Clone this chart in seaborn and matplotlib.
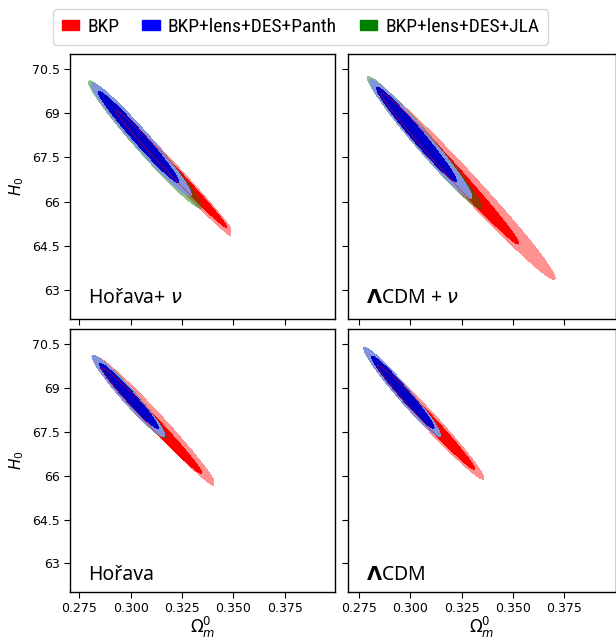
import numpy as np
import matplotlib
matplotlib.use("Agg")
import matplotlib.pyplot as plt
from matplotlib import font_manager
from matplotlib.patches import Patch
import seaborn as sns

# === Contour data: (Omega_m centre, H0 centre, sigma Omega_m, sigma H0, correlation) ===
# one tuple per panel: Horava+nu, LCDM+nu, Horava, LCDM
panel_labels = ["Hořava+ $\\nu$", "$\\mathbf{\\Lambda}$CDM + $\\nu$", "Hořava", "$\\mathbf{\\Lambda}$CDM"]

bkp_outer = [(0.3190, 67.15, 0.0330, 2.45, -0.9908),
             (0.3270, 66.63, 0.0435, 3.27, -0.9871),
             (0.3125, 67.85, 0.0290, 2.20, -0.9853),
             (0.3085, 67.95, 0.0273, 2.07, -0.9833)]
bkp_inner = [(0.3196, 67.12, 0.0271, 1.99, -0.9937),
             (0.3192, 67.13, 0.0335, 2.57, -0.9912),
             (0.3103, 67.885, 0.0243, 1.805, -0.9896),
             (0.3077, 68.00, 0.0236, 1.78, -0.9889)]
# BKP chains stop at an Omega_m bound in the Horava runs
bkp_om_max = [0.3486, None, 0.3405, None]

jla_outer = [(0.30705, 67.935, 0.02755, 2.165, -0.9790),
             (0.30705, 67.99, 0.02785, 2.25, -0.9795),
             (0.2993, 68.70, 0.0180, 1.42, -0.9682),
             (0.2963, 68.84, 0.0180, 1.47, -0.9728)]
jla_inner = [(0.3045, 68.15, 0.0195, 1.55, -0.9819),
             (0.3035, 68.25, 0.0190, 1.58, -0.9808),
             (0.2995, 68.72, 0.0140, 1.09, -0.9739),
             (0.2966, 68.85, 0.0148, 1.20, -0.9774)]

panth_outer = [(0.3051, 68.115, 0.02435, 1.925, -0.9755),
               (0.30515, 68.13, 0.02485, 2.02, -0.9771),
               (0.29895, 68.725, 0.01775, 1.395, -0.9689),
               (0.2961, 68.86, 0.0187, 1.53, -0.9728)]
panth_inner = [(0.30395, 68.185, 0.01955, 1.545, -0.9819),
               (0.3030, 68.28, 0.0194, 1.60, -0.9805),
               (0.2992, 68.73, 0.0143, 1.11, -0.9739),
               (0.2964, 68.855, 0.0152, 1.235, -0.9778)]

legend_labels = ["BKP", "BKP+lens+DES+Panth", "BKP+lens+DES+JLA"]
xticks = [0.275, 0.300, 0.325, 0.350, 0.375]
xtick_labels = ["0.275", "0.300", "0.325", "0.350", "0.375"]
yticks = [63, 64.5, 66, 67.5, 69, 70.5]
ytick_labels = ["63", "64.5", "66", "67.5", "69", "70.5"]

sns.set_style("ticks")
plt.rcParams["font.family"] = ["DejaVu Sans"]
plt.rcParams["axes.edgecolor"] = "black"
plt.rcParams["axes.linewidth"] = 1.0
plt.rcParams["text.color"] = "black"
plt.rcParams["axes.labelcolor"] = "black"

# legend text in the paper is a narrow sans; take one if the machine has it
narrow = None
fonts = font_manager.fontManager.ttflist
for want in ["Liberation Sans Narrow", "Open Sans Condensed", "Roboto Condensed",
             "Noto Sans Condensed", "Open Sans", "Noto Sans", "Roboto"]:
    for f in fonts:
        if f.name == want and f.style == "normal" and f.weight in (400, "normal", "regular"):
            if want in ("Open Sans", "Noto Sans", "Roboto") and f.stretch not in ("condensed", "semi-condensed"):
                continue
            narrow = f.fname
            break
    if narrow:
        break
if narrow:
    leg_prop = font_manager.FontProperties(fname=narrow, size=14)
else:
    leg_prop = font_manager.FontProperties(family="Noto Sans", size=12)

om = np.linspace(0.262, 0.408, 1000)
hh = np.linspace(61.5, 71.5, 1000)
OM, HH = np.meshgrid(om, hh)


def chi2(p, om_max=None):
    cx, cy, sx, sy, r = p
    u = (OM - cx) / sx
    v = (HH - cy) / sy
    q = (u * u - 2 * r * u * v + v * v) / (1 - r * r)
    if om_max is not None:
        q = np.where(OM > om_max, 10.0, q)
    return q


fig = plt.figure(figsize=(6.16, 6.37), dpi=100)
W, H = 616, 637
boxes = [[70 / W, 0.5, 265 / W, 264.5 / H],
         [348 / W, 0.5, 268 / W, 264.5 / H],
         [70 / W, 0.0711, 265 / W, 262.4 / H],
         [348 / W, 0.0711, 268 / W, 262.4 / H]]
xlims = [(0.2705, 0.3995), (0.2697, 0.4001), (0.2705, 0.3995), (0.2697, 0.4001)]

label_font = ["Noto Sans", "DejaVu Sans"]

for i in range(4):
    ax = fig.add_axes(boxes[i])
    # BKP
    ax.contourf(OM, HH, chi2(bkp_outer[i], bkp_om_max[i]), levels=[-1, 1], colors=["#ff9191"])
    ax.contourf(OM, HH, chi2(bkp_inner[i], bkp_om_max[i]), levels=[-1, 1], colors=["#ff0000"])
    # JLA
    ax.contourf(OM, HH, chi2(jla_outer[i]), levels=[-1, 1], colors=["green"], alpha=0.45)
    ax.contourf(OM, HH, chi2(jla_inner[i]), levels=[-1, 1], colors=["green"], alpha=0.9)
    # Pantheon
    ax.contourf(OM, HH, chi2(panth_outer[i]), levels=[-1, 1], colors=["#8194dc"])
    ax.contourf(OM, HH, chi2(panth_inner[i]), levels=[-1, 1], colors=["#0000c8"])
    ax.contour(OM, HH, chi2(bkp_inner[i], bkp_om_max[i]), levels=[1], colors=["red"],
               linewidths=0.6, alpha=0.6)

    ax.set_xlim(*xlims[i])
    ax.set_ylim(62.03, 71.01)
    ax.set_xticks(xticks)
    ax.set_yticks(yticks)
    ax.tick_params(direction="out", length=4, width=0.8, labelsize=9,
                   colors="black", labelcolor="black")
    if i >= 2:
        ax.set_xticklabels(xtick_labels)
        ax.set_xlabel("$\\Omega_m^0$", fontsize=12, labelpad=0)
    else:
        ax.set_xticklabels([])
    if i % 2 == 0:
        ax.set_yticklabels(ytick_labels)
        ax.set_ylabel("$H_0$", fontsize=11)
    else:
        ax.set_yticklabels([])
    for s in ax.spines.values():
        s.set_color("black")
    yb = 0.058 if i < 2 else 0.045
    ax.text(0.068, yb, panel_labels[i], transform=ax.transAxes, fontsize=14,
            family=label_font, weight=500, color="black", va="baseline", ha="left")

handles = [Patch(color="red"), Patch(color="blue"), Patch(color="green")]
leg = fig.legend(handles=handles, labels=legend_labels, loc="upper left",
                 bbox_to_anchor=(53 / W, 1 - 9 / H), ncol=3, prop=leg_prop,
                 handlelength=0.9, handleheight=0.45, handletextpad=0.4,
                 columnspacing=1.2, borderaxespad=0, borderpad=0.45, frameon=True)
for t in leg.get_texts():
    t.set_color("black")

fig.savefig("out.png", dpi=100)
